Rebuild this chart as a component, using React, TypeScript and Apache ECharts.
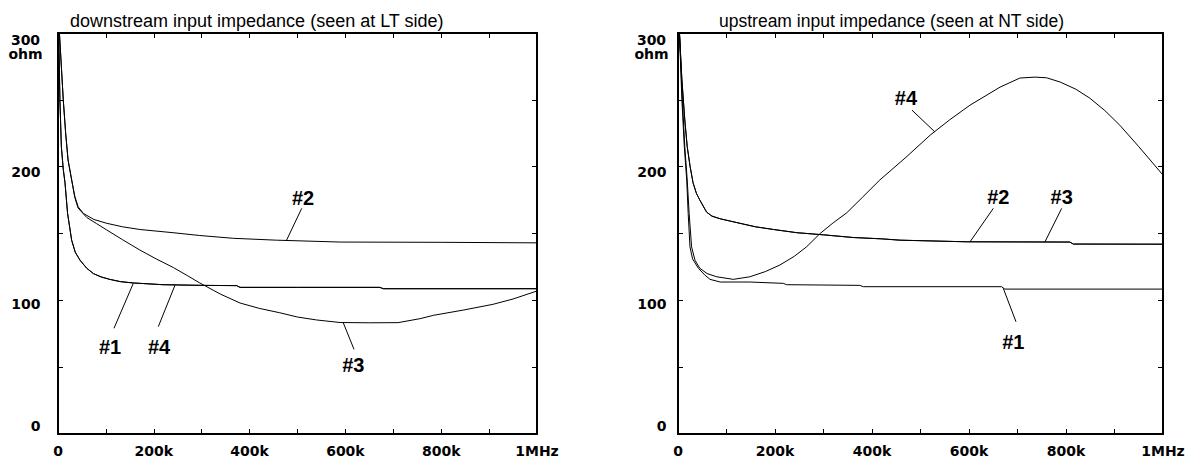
import React, { useEffect, useRef } from "react";
import * as echarts from "echarts";

// ---------- data: [frequency (Hz), impedance (ohm)] ----------
const DOWN_1: [number, number][] = [
  [1500, 300], [4000, 250], [7000, 215], [11000, 198], [14600, 188], [20000, 165],
  [28500, 145], [36000, 136], [46000, 130], [60000, 124], [74000, 120], [90000, 117.5],
  [108000, 115.7], [130000, 114], [157000, 113], [219000, 111.7], [300000, 111.2],
  [373000, 111], [380000, 109.7], [500000, 109.7], [672000, 109.7], [679000, 108.7],
  [850000, 108.7], [1000000, 108.7],
];
const DOWN_2: [number, number][] = [
  [3000, 300], [7000, 275], [11000, 250], [16000, 225], [21000, 205], [28600, 190],
  [35000, 178], [42000, 170], [53000, 165], [75000, 160.5], [102000, 157.6],
  [135000, 155], [171000, 153], [240000, 150.6], [296000, 148.5], [366000, 146.4],
  [456000, 145], [589000, 143.6], [800000, 143.4], [1000000, 143],
];
const DOWN_3: [number, number][] = [
  [3000, 300], [7000, 275], [11000, 250], [16000, 225], [21000, 205], [28600, 190],
  [35000, 177], [42000, 169], [60000, 162], [80000, 157.5], [102000, 152.6],
  [135000, 145.3], [171000, 137.6], [205000, 131], [241000, 124.5], [270000, 118.5],
  [296000, 113], [340000, 104.5], [380000, 98], [420000, 94], [463000, 90.7],
  [500000, 87.5], [540000, 85.3], [589000, 83.4], [650000, 83.2], [710000, 83.3],
  [756000, 86.3], [784000, 88.8], [846000, 92.7], [908000, 97], [950000, 101],
  [1000000, 107],
];
const DOWN_4: [number, number][] = [
  [1500, 300], [4000, 250], [7000, 215], [11000, 198], [14600, 188], [20000, 165],
  [28500, 145], [36000, 136], [46000, 130], [60000, 124], [74000, 120], [90000, 117.5],
  [108000, 115.7], [130000, 114], [157000, 113], [219000, 111.7], [300000, 111.2],
  [373000, 111], [380000, 109.7], [500000, 109.7], [672000, 109.7], [679000, 108.7],
  [850000, 108.7], [1000000, 108.7],
];

const UP_1: [number, number][] = [
  [3000, 300], [8000, 250], [13000, 215], [18000, 190], [21000, 165], [24700, 140],
  [30000, 131], [42000, 124], [55000, 119], [66000, 115.7], [87000, 113.7],
  [148000, 113.7], [217000, 112.7], [224000, 111.7], [375000, 111.2], [382000, 110.2],
  [667000, 110.2], [674000, 108.4], [1000000, 108.4],
];
const UP_2: [number, number][] = [
  [3000, 300], [8000, 265], [14000, 235], [19000, 215], [25000, 200], [31000, 188],
  [38000, 180], [45000, 175], [59000, 166], [70000, 163], [87000, 161], [128000, 157.6],
  [160000, 155], [197000, 153], [245000, 150.6], [300000, 149], [361000, 147],
  [420000, 146], [458000, 145], [595000, 143.8], [808000, 143.6], [815000, 142.1],
  [1000000, 142],
];
const UP_3: [number, number][] = [
  [3000, 300], [8000, 265], [14000, 235], [19000, 215], [25000, 200], [31000, 188],
  [38000, 180], [45000, 175], [59000, 166], [70000, 163], [87000, 161], [128000, 157.6],
  [160000, 155], [197000, 153], [245000, 150.6], [300000, 149], [361000, 147],
  [420000, 146], [458000, 145], [595000, 143.8], [808000, 143.6], [815000, 142.1],
  [1000000, 142],
];
const UP_4: [number, number][] = [
  [3000, 300], [9000, 250], [14000, 215], [19000, 190], [23000, 165], [28000, 140],
  [35000, 130], [45000, 124], [60000, 120], [80000, 117.6], [114000, 115.7],
  [148000, 117.6], [180000, 121.5], [210000, 126.4], [240000, 133], [265000, 140],
  [293000, 150], [320000, 158], [348000, 165.5], [380000, 177], [416000, 190],
  [470000, 207], [520000, 223.6], [560000, 235], [602000, 246], [664000, 259.5],
  [705000, 266.3], [736000, 267], [760000, 266.5], [788000, 263.3], [820000, 258],
  [849000, 251.3], [880000, 242], [911000, 231], [950000, 215], [1000000, 193.7],
];

// annotation labels: [name, f, Z] and leader lines [f1, Z1, f2, Z2]
const DOWN_LABELS: [string, number, number][] = [
  ["#2", 511500, 176.5], ["#1", 108600, 65.3], ["#4", 210900, 65.3], ["#3", 616500, 51.6],
];
const DOWN_LEADERS: [number, number, number, number][] = [
  [508800, 168.8, 477300, 145.1], [116900, 79.1, 157200, 112.7],
  [209400, 80.3, 244300, 111.4], [595600, 83.2, 618000, 63.3],
];
const UP_LABELS: [string, number, number][] = [
  ["#4", 470100, 251.3], ["#2", 660400, 177.5], ["#3", 791100, 177.5], ["#1", 691300, 69],
];
const UP_LEADERS: [number, number, number, number][] = [
  [482500, 242.3, 529900, 225.9], [650100, 168.8, 602100, 143.8],
  [791100, 168.8, 756700, 143.8], [670700, 109, 696900, 84],
];

const TITLES = [
  "downstream input impedance (seen at LT side)",
  "upstream input impedance (seen at NT side)",
];
const X_TICK_VALUES = [0, 200000, 400000, 600000, 800000, 1000000];
const X_TICK_LABELS = ["0", "200k", "400k", "600k", "800k", "1MHz"];
const Y_TICK_VALUES = [0, 100, 200, 300];
const Y_TICK_LABELS = ["0", "100", "200", "300"];
const Y_UNIT = "ohm";

const TICK_FONT = "DejaVu Sans";
const LABEL_FONT = "Liberation Sans";

function xFormatter(v: number) {
  const i = X_TICK_VALUES.indexOf(v);
  return i >= 0 ? X_TICK_LABELS[i] : "";
}

function yFormatter(v: number) {
  const i = Y_TICK_VALUES.indexOf(v);
  if (i < 0) return "";
  const t = Y_TICK_LABELS[i];
  if (v === 300) return `{s3| }\n{s3| }\n{t3|${t}}\n{t3|${Y_UNIT}}`;
  if (v === 200) return `{s2| }\n{t2|${t}}`;
  if (v === 100) return `{s1| }\n{t1|${t}}`;
  return `{t0|${t}}\n{s0| }`;
}

const tickText = { fontFamily: TICK_FONT, fontWeight: "bold", fontSize: 14, color: "#000" };
const yRich = {
  s3: { ...tickText, lineHeight: 14 },
  t3: { ...tickText, lineHeight: 14, width: 30, align: "center" },
  s2: { ...tickText, lineHeight: 10.8 },
  t2: { ...tickText, lineHeight: 10.8 },
  s1: { ...tickText, lineHeight: 8 },
  t1: { ...tickText, lineHeight: 8 },
  s0: { ...tickText, lineHeight: 16 },
  t0: { ...tickText, lineHeight: 16 },
};

const axisLine = { show: true, onZero: false, lineStyle: { color: "#000", width: 2 } };
const axisTick = { show: true, inside: true, length: 5, lineStyle: { color: "#000", width: 1 } };

function makeX(gridIndex: number, position: "bottom" | "top") {
  return {
    type: "value",
    gridIndex,
    position,
    min: 0,
    max: 1000000,
    interval: 100000,
    axisLine,
    axisTick,
    splitLine: { show: false },
    axisLabel:
      position === "bottom"
        ? { show: true, formatter: xFormatter, margin: 10, ...tickText, showMinLabel: true, showMaxLabel: true }
        : { show: false },
  };
}

function makeY(gridIndex: number, position: "left" | "right", margin: number) {
  return {
    type: "value",
    gridIndex,
    position,
    min: 0,
    max: 300,
    interval: 50,
    axisLine,
    axisTick,
    splitLine: { show: false },
    axisLabel:
      position === "left"
        ? { show: true, formatter: yFormatter, margin, align: "right", rich: yRich, ...tickText, showMinLabel: true, showMaxLabel: true }
        : { show: false },
  };
}

function lineSeries(data: [number, number][], xi: number, yi: number) {
  return {
    type: "line",
    xAxisIndex: xi,
    yAxisIndex: yi,
    data,
    showSymbol: false,
    symbol: "none",
    clip: true,
    silent: true,
    lineStyle: { color: "#000", width: 1 },
  };
}

function labelSeries(
  labels: [string, number, number][],
  leaders: [number, number, number, number][],
  xi: number,
  yi: number
) {
  return {
    type: "scatter",
    xAxisIndex: xi,
    yAxisIndex: yi,
    symbolSize: 0,
    silent: true,
    itemStyle: { opacity: 1, color: "#000" },
    data: labels.map(([name, f, z]) => ({ name, value: [f, z] })),
    label: {
      show: true,
      position: "inside",
      formatter: "{b}",
      fontFamily: LABEL_FONT,
      fontWeight: "bold",
      fontSize: 20,
      color: "#000",
      opacity: 1,
      textBorderWidth: 0,
    },
    markLine: {
      silent: true,
      symbol: ["none", "none"],
      label: { show: false },
      lineStyle: { color: "#000", width: 1, type: "solid", opacity: 1 },
      data: leaders.map(([f1, z1, f2, z2]) => [{ coord: [f1, z1] }, { coord: [f2, z2] }]),
    },
  };
}

export default function App() {
  const ref = useRef<HTMLDivElement>(null);
  useEffect(() => {
    if (!ref.current) return;
    const chart = echarts.init(ref.current, undefined, { renderer: "svg" });
    const titleStyle = { fontFamily: LABEL_FONT, fontWeight: "normal", fontSize: 18, color: "#000" };
    chart.setOption({
      animation: false,
      backgroundColor: "#fff",
      title: [
        { text: TITLES[0], left: 70, top: 12, padding: 0, textStyle: titleStyle },
        { text: TITLES[1], left: 719, top: 12, padding: 0, textStyle: { ...titleStyle, fontSize: 17.5 } },
      ],
      grid: [
        { left: 58, top: 33, width: 479, height: 401 },
        { left: 678, top: 33, width: 485, height: 401 },
      ],
      xAxis: [makeX(0, "bottom"), makeX(0, "top"), makeX(1, "bottom"), makeX(1, "top")],
      yAxis: [makeY(0, "left", 17.5), makeY(0, "right", 0), makeY(1, "left", 11.5), makeY(1, "right", 0)],
      series: [
        lineSeries(DOWN_1, 0, 0),
        lineSeries(DOWN_2, 0, 0),
        lineSeries(DOWN_3, 0, 0),
        lineSeries(DOWN_4, 0, 0),
        labelSeries(DOWN_LABELS, DOWN_LEADERS, 0, 0),
        lineSeries(UP_1, 2, 2),
        lineSeries(UP_2, 2, 2),
        lineSeries(UP_3, 2, 2),
        lineSeries(UP_4, 2, 2),
        labelSeries(UP_LABELS, UP_LEADERS, 2, 2),
      ],
    });
    return () => chart.dispose();
  }, []);
  return (
    <div
      ref={ref}
      style={{ position: "fixed", left: 0, top: 0, width: 1196, height: 461, background: "#fff" }}
    />
  );
}
